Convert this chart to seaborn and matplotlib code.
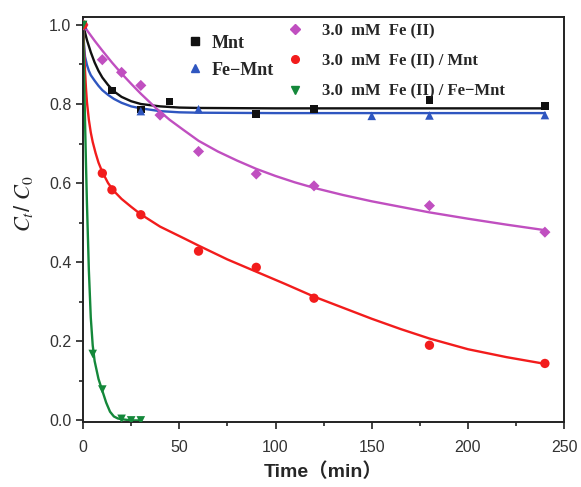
import matplotlib.pyplot as plt
import seaborn as sns
from matplotlib.ticker import MultipleLocator

# measured points (time in min, Ct/C0)
mnt_t = [0, 15, 30, 45, 90, 120, 180, 240]
mnt_y = [1.0, 0.834, 0.786, 0.806, 0.774, 0.788, 0.810, 0.795]

femnt_t = [0, 30, 60, 150, 180, 240]
femnt_y = [1.0, 0.782, 0.787, 0.770, 0.771, 0.772]

fe2_t = [0, 10, 20, 30, 40, 60, 90, 120, 180, 240]
fe2_y = [1.0, 0.912, 0.880, 0.847, 0.772, 0.680, 0.623, 0.593, 0.543, 0.476]

fe2mnt_t = [0, 10, 15, 30, 60, 90, 120, 180, 240]
fe2mnt_y = [1.0, 0.625, 0.583, 0.520, 0.428, 0.387, 0.309, 0.190, 0.144]

fe2femnt_t = [0, 5, 10, 20, 25, 30]
fe2femnt_y = [1.0, 0.168, 0.078, 0.004, 0.0, 0.0]

# fitted curves
mnt_fit_t = [0, 2, 4, 6, 8, 10, 13, 16, 20, 25, 30, 40, 50, 60, 100, 150, 200, 240]
mnt_fit_y = [1.0, 0.962, 0.931, 0.905, 0.884, 0.867, 0.848, 0.832, 0.818,
             0.807, 0.800, 0.794, 0.791, 0.790, 0.789, 0.789, 0.789, 0.789]

femnt_fit_t = [0, 0.5, 1, 2, 3, 4, 6, 8, 10, 13, 16, 20, 25, 30, 40, 50, 60, 100, 240]
femnt_fit_y = [1.0, 0.950, 0.920, 0.899, 0.884, 0.873, 0.859, 0.846, 0.835, 0.823,
               0.813, 0.803, 0.794, 0.789, 0.782, 0.779, 0.778, 0.777, 0.777]

fe2_fit_t = [0, 3, 6, 10, 15, 20, 25, 30, 38, 45, 52, 60, 70, 80, 90, 100, 110,
             120, 135, 150, 165, 180, 200, 220, 240]
fe2_fit_y = [1.0, 0.980, 0.960, 0.935, 0.905, 0.877, 0.851, 0.826, 0.789, 0.760,
             0.735, 0.707, 0.680, 0.657, 0.636, 0.618, 0.602, 0.588, 0.570, 0.554,
             0.540, 0.526, 0.510, 0.495, 0.481]

fe2mnt_fit_t = [0, 0.5, 1, 1.5, 2, 3, 4, 5, 6.5, 8, 10, 13, 16, 20, 25, 30, 40, 53,
                60, 75, 90, 105, 120, 135, 150, 165, 180, 200, 220, 240]
fe2mnt_fit_y = [1.0, 0.935, 0.885, 0.840, 0.805, 0.760, 0.728, 0.704, 0.676, 0.652,
                0.628, 0.600, 0.580, 0.560, 0.540, 0.521, 0.490, 0.459, 0.442, 0.407,
                0.376, 0.345, 0.313, 0.285, 0.257, 0.231, 0.207, 0.180, 0.160, 0.143]

fe2femnt_fit_t = [0, 0.5, 1, 1.5, 2, 3, 4, 5, 6, 8, 10, 12, 14, 16, 18, 20, 25, 30]
fe2femnt_fit_y = [1.0, 0.88, 0.76, 0.65, 0.55, 0.38, 0.26, 0.19, 0.15, 0.105,
                  0.075, 0.045, 0.022, 0.010, 0.005, 0.003, 0.0, 0.0]

labels = ["Mnt", "Fe\u2212Mnt", "3.0  mM  Fe (II)", "3.0  mM  Fe (II) / Mnt",
          "3.0  mM  Fe (II) / Fe\u2212Mnt"]
colors = ["#111111", "#2f56c0", "#c04fc0", "#f21c1c", "#14883a"]
markers = ["s", "^", "D", "o", "v"]
marker_sizes = [30, 38, 32, 45, 38]

points = [(mnt_t, mnt_y), (femnt_t, femnt_y), (fe2_t, fe2_y),
          (fe2mnt_t, fe2mnt_y), (fe2femnt_t, fe2femnt_y)]
fits = [(mnt_fit_t, mnt_fit_y), (femnt_fit_t, femnt_fit_y), (fe2_fit_t, fe2_fit_y),
        (fe2mnt_fit_t, fe2mnt_fit_y), (fe2femnt_fit_t, fe2femnt_fit_y)]

sns.set_style("ticks")
plt.rcParams['font.family'] = ['Liberation Sans', 'Noto Sans CJK SC', 'DejaVu Sans']
plt.rcParams['mathtext.fontset'] = 'stix'

fig = plt.figure(figsize=(5.81, 4.87), dpi=100)
ax = fig.add_axes([0.143, 0.1335, 0.828, 0.8316])

handles = []
for (ft, fy), (pt, py), c, m, s in zip(fits, points, colors, markers, marker_sizes):
    sns.lineplot(x=ft, y=fy, ax=ax, color=c, linewidth=1.7, sort=False, zorder=2)
    sns.scatterplot(x=pt, y=py, ax=ax, color=c, marker=m, s=s,
                    edgecolor="none", zorder=3)
    h, = ax.plot([], [], linestyle="none", marker=m, color=c, markersize=5.5)
    handles.append(h)

ax.set_xlim(0, 250)
ax.xaxis.set_major_locator(MultipleLocator(50))
ax.xaxis.set_minor_locator(MultipleLocator(25))
ax.yaxis.set_major_locator(MultipleLocator(0.2))
ax.yaxis.set_minor_locator(MultipleLocator(0.1))
ax.set_yticks(ax.get_yticks())
ax.set_yticklabels([f"{v:.1f}" for v in ax.get_yticks()])
ax.set_ylim(-0.004, 1.02)
ax.tick_params(which="major", direction="out", length=5, width=1.2,
               labelsize=11.5, colors="#222222", labelcolor="#333333")
ax.tick_params(which="minor", direction="out", length=3, width=1.2)
ax.tick_params(axis="x", which="major", pad=8)
for sp in ax.spines.values():
    sp.set_visible(True)
    sp.set_linewidth(1.4)
    sp.set_color("#222222")

ax.set_xlabel("Time（min）", fontsize=14, fontweight="bold", labelpad=5)
ax.set_ylabel(r"$C_t$/ $C_0$", fontsize=16)
ax.yaxis.set_label_coords(-0.1, 0.54)

leg_font = {"family": "Liberation Serif", "weight": "bold"}
leg1 = ax.legend(handles[:2], labels[:2], loc="upper left",
                 bbox_to_anchor=(0.21, 0.956), frameon=False,
                 prop=dict(leg_font, size=13), handletextpad=0.35,
                 labelspacing=0.55, handlelength=1.2, borderaxespad=0,
                 borderpad=0)
ax.add_artist(leg1)
ax.legend(handles[2:], labels[2:], loc="upper left",
          bbox_to_anchor=(0.42, 0.985), frameon=False,
          prop=dict(leg_font, size=12), handletextpad=1.0,
          labelspacing=0.85, handlelength=1.2, borderaxespad=0, borderpad=0)

fig.savefig("out.png", dpi=100)
